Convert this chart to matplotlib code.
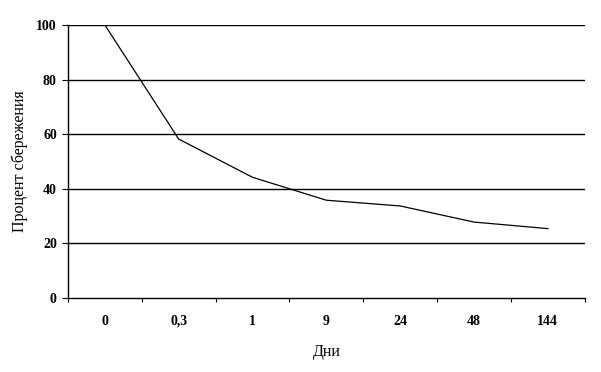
import matplotlib
matplotlib.use("Agg")
from matplotlib import pyplot as plt
import numpy as np

# Ebbinghaus data
days = ["0", "0,3", "1", "9", "24", "48", "144"]
retention = [100, 58.2, 44.2, 35.8, 33.7, 27.8, 25.4]
yticks = [0, 20, 40, 60, 80, 100]

plt.rcParams['font.family'] = ['Liberation Serif', 'DejaVu Serif']

fig = plt.figure(figsize=(6.01, 3.72), dpi=100)
ax = fig.add_axes([0.113, 0.199, 0.86, 0.734])

x = np.arange(len(days))
ax.plot(x, retention, color="black", lw=0.9)

# horizontal grid
for v in yticks[1:]:
    ax.axhline(v, color="black", lw=1.0, zorder=0)

ax.set_xlim(-0.5, len(days) - 0.5)
ax.set_ylim(0, 100)

ax.set_xticks(x)
ax.set_xticklabels(days, fontsize=10, fontweight="bold")
ax.set_xticks(np.arange(len(days) + 1) - 0.5, minor=True)
ax.tick_params(axis="x", which="major", length=0, pad=12)
ax.tick_params(axis="x", which="minor", length=3, direction="out", width=0.8)

ax.set_yticks(yticks)
ax.set_yticklabels([str(v) for v in yticks], fontsize=10, fontweight="bold")
ax.tick_params(axis="y", length=4, width=0.8, direction="out", pad=4)

for s in ["top", "right"]:
    ax.spines[s].set_visible(False)
ax.spines["left"].set_linewidth(1.0)
ax.spines["bottom"].set_linewidth(1.0)

ax.set_ylabel("Процент сбережения", fontsize=11.5, labelpad=6)
ax.set_xlabel("Дни", fontsize=11.5, labelpad=12)

fig.savefig("out.png", dpi=100)
